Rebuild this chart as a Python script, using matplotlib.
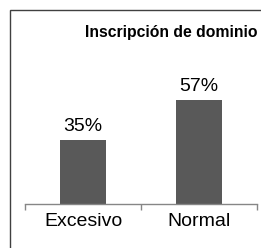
import matplotlib.pyplot as plt
from matplotlib.patches import Rectangle

plt.rcParams['font.family'] = ['Liberation Sans', 'DejaVu Sans']

categories = ['Excesivo', 'Normal']
values = [35, 57]
labels = ['35%', '57%']
title = 'Inscripción de dominio'

W, H = 261, 248
fig = plt.figure(figsize=(W / 100, H / 100), dpi=100)

# outer frame (cropped on right and bottom)
fig.patches.append(Rectangle((9.5 / W, -0.1), 1.2, 1 - 9.5 / H + 0.1,
                             transform=fig.transFigure, fill=False,
                             edgecolor='#404040', linewidth=1.0))

ax = fig.add_axes([25 / W, 1 - 203.5 / H, 232 / W, 181 / H])
x = range(len(categories))
ax.bar(x, values, width=0.4, color='#595959')
for i, v in enumerate(values):
    ax.text(i, v + 5.3, labels[i], ha='center', va='baseline', fontsize=14)

ax.set_xlim(-0.5, 1.5)
ax.set_ylim(0, 100)
ax.set_yticks([])
for s in ['left', 'right', 'top']:
    ax.spines[s].set_visible(False)
ax.spines['bottom'].set_color('#868686')
ax.spines['bottom'].set_linewidth(1.0)
ax.set_xticks(list(x))
ax.set_xticklabels(categories, fontsize=14)
ax.tick_params(axis='x', which='major', length=0, pad=7)
ax.set_xticks([-0.5, 0.5, 1.5], minor=True)
ax.tick_params(axis='x', which='minor', length=4.5, color='#868686', width=1.0)

fig.text(171.5 / W, 1 - 32.5 / H, title, ha='center', va='center',
         fontsize=11.3, fontweight='bold')

fig.savefig('out.png', dpi=100)
